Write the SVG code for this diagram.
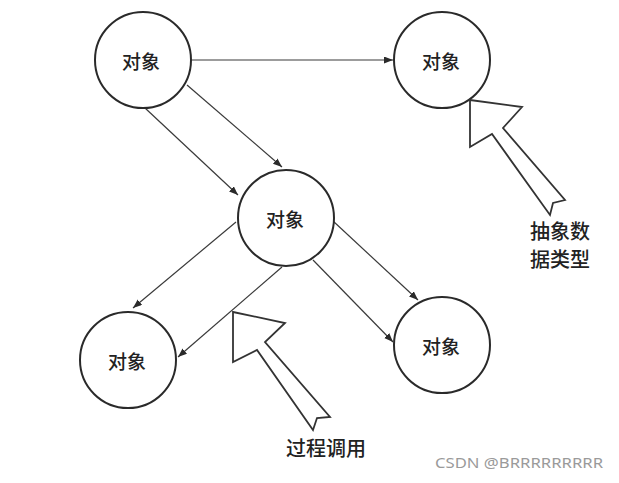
<svg xmlns="http://www.w3.org/2000/svg" width="619" height="483" viewBox="0 0 619 483">
<style>
.node circle{fill:#fff;stroke:#2a2a2a;stroke-width:2}
.lbl{font-family:"Noto Sans CJK SC","Noto Sans",sans-serif;font-size:19px;font-weight:500;fill:#222;text-anchor:middle;dominant-baseline:central}
.big{font-size:20px}
.edge{stroke:#3a3a3a;stroke-width:1.2;fill:none;marker-end:url(#ah)}
.block{fill:#fff;stroke:#333;stroke-width:1.8;stroke-linejoin:miter}
.wm{font-family:"Noto Sans","Liberation Sans",sans-serif;font-size:14px;fill:#9a9a9a}
</style>
<defs>
<marker id="ah" markerUnits="userSpaceOnUse" markerWidth="10" markerHeight="8" refX="9" refY="3.5" orient="auto">
<path d="M0,0 L9,3.5 L0,7 z" fill="#2a2a2a"/>
</marker>
</defs>
<rect width="619" height="483" fill="#fff"/>
<g id="connectors">
<line class="edge" x1="191" y1="60" x2="393" y2="60"/>
<line class="edge" x1="187" y1="85" x2="282" y2="167"/>
<line class="edge" x1="145" y1="108" x2="238" y2="195"/>
<line class="edge" x1="236" y1="222" x2="133" y2="308"/>
<line class="edge" x1="282" y1="267" x2="178" y2="357"/>
<line class="edge" x1="333" y1="221" x2="418" y2="300"/>
<line class="edge" x1="313" y1="260" x2="393" y2="342"/>
</g>
<g id="n1" class="node"><circle cx="143" cy="60" r="48"/><text class="lbl" x="141" y="60">对象</text></g>
<g id="n2" class="node"><circle cx="442" cy="60" r="48"/><text class="lbl" x="441" y="60">对象</text></g>
<g id="n3" class="node"><circle cx="286" cy="218" r="48"/><text class="lbl" x="285" y="218">对象</text></g>
<g id="n4" class="node"><circle cx="128" cy="360" r="48"/><text class="lbl" x="127" y="360">对象</text></g>
<g id="n5" class="node"><circle cx="442" cy="345" r="48"/><text class="lbl" x="441" y="345">对象</text></g>
<g id="adt">
<polygon class="block" points="470,100 522,107 503,128 565,200 553,203 550,215 492,134 470,147"/>
<text class="lbl big" x="560" y="230">抽象数</text>
<text class="lbl big" x="560" y="258">据类型</text>
</g>
<g id="call">
<polygon class="block" points="233,312 285,323 265,342 330,417 317,418 313,430 257,350 233,362"/>
<text class="lbl big" x="326" y="447">过程调用</text>
</g>
<text class="wm" x="435" y="468" textLength="168" lengthAdjust="spacingAndGlyphs">CSDN @BRRRRRRRRR</text>
</svg>
